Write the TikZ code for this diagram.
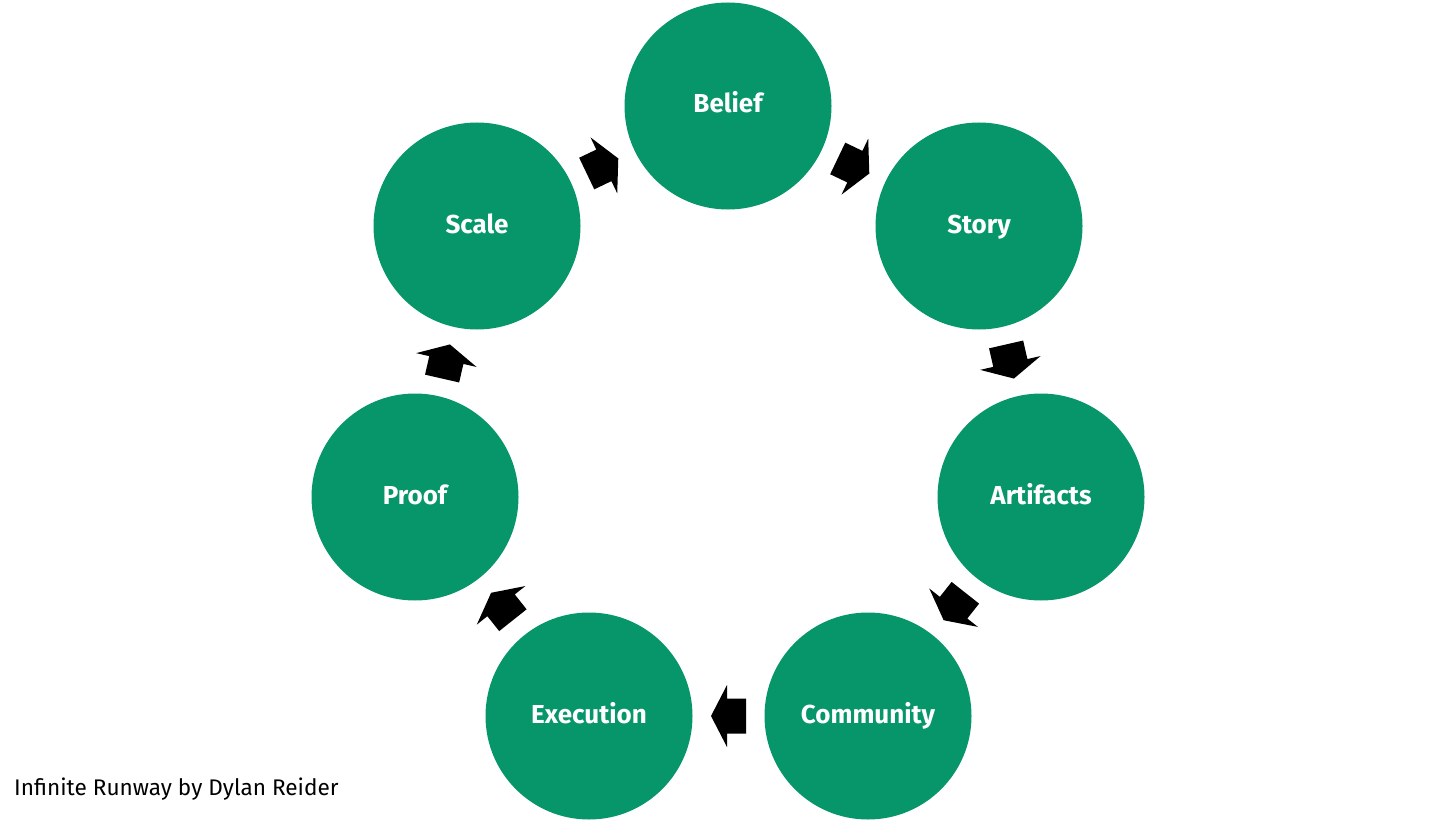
\documentclass[tikz,border=0pt]{standalone}
\usepackage{fontspec}
\setmainfont{Fira Sans}
\usetikzlibrary{calc}
\definecolor{cyclegreen}{RGB}{7,150,106}
\tikzset{
  stage/.style={circle, fill=cyclegreen, draw=none, minimum size=207pt, inner sep=0pt,
    text=white, text height=18pt, text depth=4pt, font=\fontsize{26}{30}\selectfont\bfseries},
  blockarrow/.style={fill=black, draw=none},
  caption/.style={anchor=base west, inner sep=0pt, font=\fontsize{22.6}{27}\selectfont}
}
% block arrow halfway between two named nodes, pointing from #1 to #2
\newcommand\blockarr[3]{%
  \coordinate (#3) at ($(#1)!0.5!(#2)$);
  \coordinate (#3T) at ($(#3)!17.5pt!(#2)$);
  \coordinate (#3H) at ($(#3)!1.5pt!(#2)$);
  \coordinate (#3B) at ($(#3)!-17.5pt!(#2)$);
  \fill[blockarrow] (#3T) -- ($(#3H)!31pt!90:(#2)$) -- ($(#3H)!17.5pt!90:(#2)$)
    -- ($(#3B)!17.5pt!90:(#2)$) -- ($(#3B)!17.5pt!-90:(#2)$)
    -- ($(#3H)!17.5pt!-90:(#2)$) -- ($(#3H)!31pt!-90:(#2)$) -- cycle;
}
\begin{document}
\begin{tikzpicture}[x=1pt,y=-1pt]
\useasboundingbox (0,0) rectangle (1456,824);
\node[stage] (belief) at (728,106) {Belief};
\node[stage] (story) at (979,226) {Story};
\node[stage] (artifacts) at (1041,497) {Artifacts};
\node[stage] (community) at (868,716) {Community};
\node[stage] (execution) at (589,716) {Execution};
\node[stage] (proof) at (415,497) {Proof};
\node[stage] (scale) at (477,226) {Scale};
\blockarr{belief}{story}{a1}
\blockarr{story}{artifacts}{a2}
\blockarr{artifacts}{community}{a3}
\blockarr{community}{execution}{a4}
\blockarr{execution}{proof}{a5}
\blockarr{proof}{scale}{a6}
\blockarr{scale}{belief}{a7}
\node[caption] (cap) at (14,795) {Infinite Runway by Dylan Reider};
\end{tikzpicture}
\end{document}
